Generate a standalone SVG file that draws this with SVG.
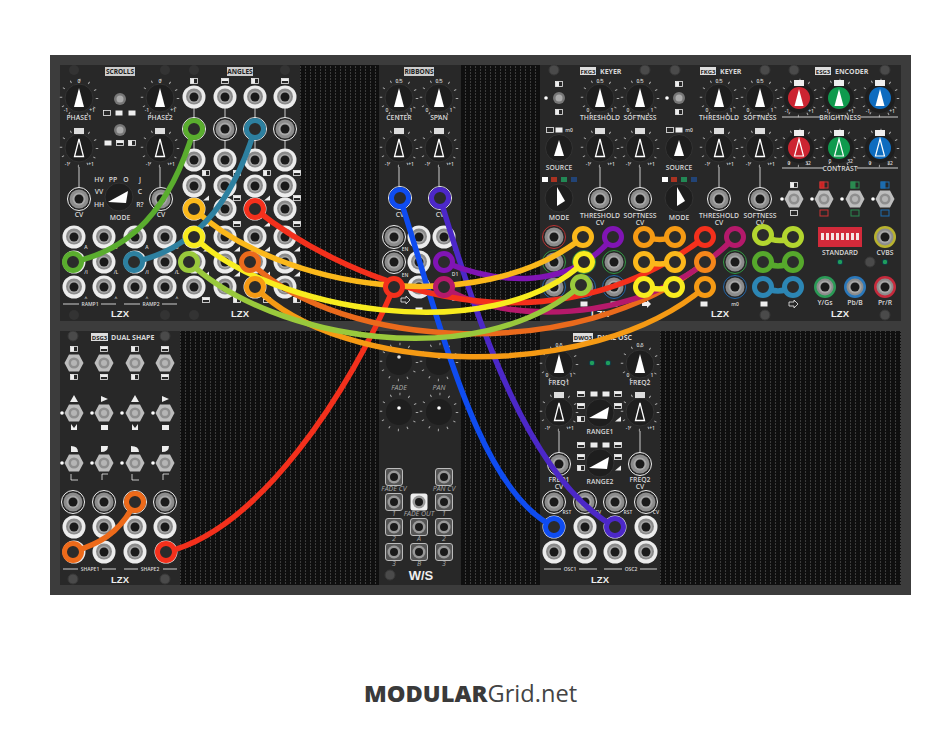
<svg xmlns="http://www.w3.org/2000/svg" width="941" height="735" viewBox="0 0 941 735">
<style>
text{font-family:"Open Sans","Liberation Sans",sans-serif;fill:#d8d8d8;text-anchor:middle}
.t{font-size:6.8px;font-weight:600}
.s{font-size:5px;font-weight:600}
.i{font-size:7px;font-style:italic;fill:#aaa}
.h{font-size:6.5px;font-weight:700;fill:#222}
.k{font-size:7px;font-weight:700;text-anchor:start}
.lg{font-size:9.500px;font-weight:800;fill:#eee;font-family:"Liberation Sans",sans-serif}
.panel{fill:#282828}
.ln{stroke:#ccc;stroke-width:1;fill:none}
.c{fill:none;stroke-width:5.500;stroke-linecap:round}
.r{fill:#2b2b2b;stroke-width:5}
.ic{fill:none;stroke:#eee;stroke-width:0.800}
.w{fill:#eee}
</style>
<defs>
<pattern id="blank" width="5" height="3" patternUnits="userSpaceOnUse"><rect width="5" height="3" fill="#0f0f0f"/><rect width="1" height="2" fill="#3c3c3c"/></pattern>
<g id="jw"><circle r="11.500" fill="#ececec"/><circle cy="-0.500" r="8" fill="#8a8a8a"/><circle r="6" fill="#a8a8a8"/><circle r="4.500" fill="#1a1a1a"/></g>
<g id="jo"><circle r="11.500" fill="#262626" stroke="currentColor" stroke-width="1"/><circle r="9.500" fill="#8c8c8c"/><circle r="6.500" fill="#a6a6a6"/><circle r="4.500" fill="#1a1a1a"/></g>
<g id="jc"><circle r="11" fill="currentColor"/><circle r="8.500" fill="#8c8c8c"/><circle r="6.500" fill="#a6a6a6"/><circle r="4.500" fill="#1a1a1a"/></g>
<g id="sq"><rect x="-8.500" y="-8.500" width="17" height="17" rx="2.500" fill="#555" stroke="#bbb"/><circle r="6.500" fill="#999"/><circle r="4" fill="#1a1a1a"/></g>
<g id="sw"><rect x="-8.500" y="-8.500" width="17" height="17" rx="2.500" fill="#eee"/><circle r="6.500" fill="#999"/><circle r="4" fill="#1a1a1a"/></g>
<g id="tick"><circle r="18" fill="none" stroke="#aaa" stroke-width="2.500" stroke-dasharray="1 8.420"/></g>
<g id="kb"><use href="#tick"/><circle r="14" fill="#1e1e1e" stroke="#333"/></g>
<g id="k"><use href="#kb"/><path d="M0-10 5 9H-5Z" fill="#fff"/></g>
<g id="ko"><use href="#kb"/><path d="M0-9 4.500 8.500H-4.500Z" fill="none" stroke="#fff" stroke-width="1.300"/><rect x="-5" y="-20" width="10" height="6" fill="#ddd"/><text class="s" x="-12" y="18">-1</text><text class="s" x="12" y="18">+1</text></g>
<g id="kc"><use href="#tick"/><circle r="15" fill="#1e1e1e"/><circle r="11" fill="currentColor"/><path d="M0-9 4.500 8H-4.500Z" fill="#fff"/></g>
<g id="kco"><use href="#tick"/><circle r="15" fill="#1e1e1e"/><circle r="11" fill="currentColor"/><path d="M0-9 4.500 8H-4.500Z" fill="none" stroke="#fff" stroke-width="1.200"/></g>
<g id="ks"><circle r="13.500" fill="#1e1e1e" stroke="#333"/><path d="M0-8 5 8H-5Z" fill="#fff"/></g>
<g id="kr"><circle r="14" fill="#1e1e1e" stroke="#333"/><path d="M-11 5 9-6 7 6Z" fill="#fff"/></g>
<g id="sn"><polygon points="-9.500,0 -5,-8.500 5,-8.500 9.500,0 5,8.500 -5,8.500" fill="#bdbdbd"/><circle r="5.500" fill="#8e8e8e"/><circle r="3" fill="#b5b5b5"/></g>
<g id="sw2"><circle r="6" fill="#777"/><circle r="3.500" fill="#aaa"/></g>
<circle id="dot" r="1.800" fill="#fff"/>
<circle id="sc" r="5" fill="#4a4a4a" stroke="#383838"/>
<circle id="sd" r="5" fill="#333"/>
<g id="ih"><rect x="-3.500" y="-2.500" width="7" height="5" class="ic"/><rect x="-3.500" y="-2.500" width="3.500" height="5" class="w"/></g>
<g id="iv"><rect x="-3.500" y="-2.500" width="7" height="5" class="ic"/><rect x="-3.500" y="-2.500" width="7" height="2.500" class="w"/></g>
<g id="ie"><rect x="-3.500" y="-2.500" width="7" height="5" class="ic"/></g>
<g id="if"><rect x="-3.500" y="-2.500" width="7" height="5" class="w"/></g>
<path id="tri" d="M-3 2.500 3 2.500 3-2.500Z" class="w"/>
<circle id="led" r="2.800" fill="#1f9e5c" stroke="#134"/>
<g id="lzx"><text class="lg">LZX</text></g>
</defs>
<rect width="941" height="735" fill="#fff"/>
<rect x="50" y="55" width="861" height="540" fill="#3c3c3c"/>
<rect x="60" y="65" width="841" height="256" fill="url(#blank)"/>
<rect x="60" y="331" width="841" height="254" fill="url(#blank)"/>

<g id="scrolls">
<rect class="panel" x="60" y="65" width="120" height="256"/>
<use href="#sd" x="74" y="70"/><use href="#sd" x="165" y="70"/><use href="#sd" x="74" y="315"/><use href="#sd" x="165" y="315"/>
<rect x="105" y="67" width="30" height="9" fill="#ccc"/><text class="h" x="120" y="74">SCROLLS</text>
<use href="#k" x="79" y="98"/><use href="#k" x="160" y="98"/>
<text class="s" x="79" y="83">0</text><text class="s" x="160" y="83">0</text>
<text class="s" x="66" y="112">-1</text><text class="s" x="92" y="112">+1</text><text class="s" x="147" y="112">-1</text><text class="s" x="173" y="112">+1</text>
<text class="t" x="79" y="120">PHASE1</text><text class="t" x="160" y="120">PHASE2</text>
<use href="#ko" x="79" y="148"/><use href="#ko" x="160" y="148"/>
<use href="#sw2" x="120" y="99"/><use href="#sw2" x="120" y="130"/>
<use href="#ie" x="107" y="113"/><use href="#if" x="119" y="113"/><use href="#if" x="132" y="113"/>
<use href="#if" x="108" y="143"/><use href="#iv" x="120" y="143"/><use href="#ih" x="132" y="143"/>
<line class="ln" x1="79" y1="167" x2="79" y2="190"/><line class="ln" x1="160" y1="167" x2="160" y2="190"/>
<use href="#jo" x="79" y="199" color="#eee"/><use href="#jo" x="161" y="199" color="#eee"/>
<text class="t" x="79" y="217">CV</text><text class="t" x="161" y="217">CV</text>
<use href="#kr" x="119" y="197"/>
<text class="t" x="99" y="182">HV</text><text class="t" x="113" y="182">PP</text><text class="t" x="126" y="182">O</text><text class="t" x="140" y="182">J</text>
<text class="t" x="99" y="194">VV</text><text class="t" x="140" y="194">C</text><text class="t" x="99" y="207">HH</text><text class="t" x="140" y="207">R?</text>
<text class="t" x="120" y="220">MODE</text>
<use href="#jw" x="74" y="237"/><use href="#jw" x="104" y="237"/><use href="#jw" x="135" y="237"/><use href="#jw" x="165" y="237"/>
<use href="#jw" x="74" y="262"/><use href="#jw" x="104" y="262"/><use href="#jw" x="135" y="262"/><use href="#jw" x="165" y="262"/>
<use href="#jw" x="74" y="287"/><use href="#jw" x="104" y="287"/><use href="#jw" x="135" y="287"/><use href="#jw" x="165" y="287"/>
<text class="s" x="86" y="249">A</text><text class="s" x="116" y="249">B</text><text class="s" x="147" y="249">A</text><text class="s" x="177" y="249">B</text>
<text class="s" x="86" y="274">/I</text><text class="s" x="116" y="274">/L</text><text class="s" x="147" y="274">/I</text><text class="s" x="177" y="274">/L</text>
<text class="s" x="86" y="300">^</text><text class="s" x="116" y="300">^</text><text class="s" x="147" y="300">^</text><text class="s" x="177" y="300">^</text>
<path class="ln" d="M63 304H79M101 304H116M124 304H140M162 304H177"/>
<text class="s" x="90" y="306">RAMP1</text><text class="s" x="151" y="306">RAMP2</text>
<use href="#lzx" x="120" y="317"/>
</g>

<g id="angles">
<rect class="panel" x="180" y="65" width="120" height="256"/>
<use href="#sd" x="194" y="70"/><use href="#sd" x="285" y="70"/><use href="#sd" x="194" y="315"/><use href="#sd" x="285" y="315"/>
<rect x="227" y="67" width="26" height="9" fill="#ccc"/><text class="h" x="240" y="74">ANGLES</text>
<use href="#ih" x="194" y="81"/><use href="#iv" x="225" y="81"/><use href="#ih" x="255" y="81"/><use href="#iv" x="285" y="81"/>
<path class="ln" d="M194 97V160M225 97V160M255 97V160M285 97V160"/>
<use href="#jw" x="194" y="97"/><use href="#jw" x="225" y="97"/><use href="#jw" x="255" y="97"/><use href="#jw" x="285" y="97"/>
<use href="#jo" x="194" y="129" color="#eee"/><use href="#jo" x="225" y="129" color="#eee"/><use href="#jo" x="255" y="129" color="#eee"/><use href="#jo" x="285" y="129" color="#eee"/>
<use href="#jw" x="194" y="160"/><use href="#jw" x="225" y="160"/><use href="#jw" x="255" y="160"/><use href="#jw" x="285" y="160"/>
<use href="#jw" x="194" y="186"/><use href="#jw" x="225" y="186"/><use href="#jw" x="255" y="186"/><use href="#jw" x="285" y="186"/>
<use href="#jw" x="194" y="209"/><use href="#jw" x="225" y="209"/><use href="#jw" x="255" y="209"/><use href="#jw" x="285" y="209"/>
<use href="#jw" x="194" y="237"/><use href="#jw" x="225" y="237"/><use href="#jw" x="255" y="237"/><use href="#jw" x="285" y="237"/>
<use href="#jw" x="194" y="262"/><use href="#jw" x="225" y="262"/><use href="#jw" x="255" y="262"/><use href="#jw" x="285" y="262"/>
<use href="#jw" x="194" y="287"/><use href="#jw" x="225" y="287"/><use href="#jw" x="255" y="287"/><use href="#jw" x="285" y="287"/>
<use href="#ih" x="206" y="173"/><use href="#iv" x="237" y="173"/><use href="#ih" x="267" y="173"/><use href="#iv" x="297" y="173"/>
<use href="#tri" x="206" y="198"/><use href="#iv" x="237" y="198"/><use href="#tri" x="267" y="198"/><use href="#iv" x="297" y="198"/>
<use href="#tri" x="206" y="224"/><use href="#iv" x="237" y="224"/><use href="#tri" x="267" y="224"/><use href="#iv" x="297" y="224"/>
<use href="#tri" x="206" y="249"/><use href="#tri" x="237" y="249"/><use href="#tri" x="267" y="249"/><use href="#tri" x="297" y="249"/>
<use href="#tri" x="206" y="274"/><use href="#tri" x="237" y="274"/><use href="#tri" x="267" y="274"/><use href="#tri" x="297" y="274"/>
<use href="#iv" x="206" y="300"/><use href="#ih" x="237" y="300"/><use href="#iv" x="267" y="300"/><use href="#ih" x="297" y="300"/>
<use href="#lzx" x="240" y="317"/>
</g>

<g id="ribbons">
<rect class="panel" x="379" y="65" width="82" height="256"/>
<rect x="404" y="67" width="30" height="9" fill="#ccc"/><text class="h" x="419" y="74">RIBBONS</text>
<use href="#k" x="399" y="98"/><use href="#k" x="439" y="98"/>
<text class="s" x="399" y="83">0.5</text><text class="s" x="439" y="83">0.5</text>
<text class="s" x="387" y="112">0</text><text class="s" x="411" y="112">1</text><text class="s" x="427" y="112">0</text><text class="s" x="451" y="112">1</text>
<text class="t" x="399" y="120">CENTER</text><text class="t" x="439" y="120">SPAN</text>
<use href="#ko" x="399" y="148"/><use href="#ko" x="439" y="148"/>
<path class="ln" d="M399 167V190M439 167V190"/>
<use href="#jo" x="400" y="198" color="#eee"/><use href="#jo" x="440" y="198" color="#eee"/>
<text class="t" x="400" y="217">CV</text><text class="t" x="440" y="217">CV</text>
<use href="#jo" x="394" y="237" color="#eee"/><use href="#jo" x="394" y="262" color="#eee"/>
<use href="#jw" x="419" y="237"/><use href="#jw" x="419" y="262"/><use href="#jw" x="419" y="287"/><use href="#jw" x="444" y="237"/>
<text class="s" x="405" y="251">EN</text><text class="s" x="405" y="277">EN</text><text class="s" x="455" y="251">D</text><text class="s" x="455" y="276">D1</text><text class="s" x="455" y="301">D2</text>
<path class="ic" d="M401 298h5v-2l4 4-4 4v-2h-5z"/>
<use href="#if" x="419" y="310"/>
</g>

<g id="keyer1">
<rect class="panel" x="540" y="65" width="120" height="256"/>
<rect x="580" y="67" width="16" height="8" fill="#ddd"/><text class="h" x="588" y="73.500" style="font-size:6px">FKG3</text><text class="k" x="600" y="74">KEYER</text>
<use href="#sc" x="554" y="70"/><use href="#sc" x="645" y="70"/>
<use href="#ih" x="559" y="84"/><use href="#ih" x="559" y="112"/>
<use href="#sw2" x="559" y="98"/><use href="#dot" x="546" y="98"/>
<use href="#k" x="600" y="98"/><use href="#k" x="640" y="98"/>
<text class="s" x="600" y="83">0.5</text><text class="s" x="640" y="83">0.5</text>
<text class="s" x="588" y="112">0</text><text class="s" x="612" y="112">1</text><text class="s" x="628" y="112">0</text><text class="s" x="652" y="112">1</text>
<text class="t" x="600" y="120">THRESHOLD</text><text class="t" x="640" y="120">SOFTNESS</text>
<use href="#ks" x="559" y="148"/><use href="#ie" x="550" y="130"/><use href="#if" x="559" y="130"/><text class="s" x="569" y="132">m0</text>
<text class="t" x="559" y="170">SOURCE</text>
<use href="#ko" x="600" y="148"/><use href="#ko" x="640" y="148"/>
<path class="ln" d="M600 167V190M640 167V190"/>
<use href="#jo" x="600" y="199" color="#eee"/><use href="#jo" x="640" y="199" color="#eee"/>
<text class="t" x="600" y="218">THRESHOLD</text><text class="t" x="600" y="224.500">CV</text>
<text class="t" x="640" y="218">SOFTNESS</text><text class="t" x="640" y="224.500">CV</text>
<rect x="542" y="177" width="6" height="5" fill="#fff"/><rect x="551" y="177" width="6" height="5" fill="#a32"/><rect x="561" y="177" width="6" height="5" fill="#285"/><rect x="571" y="177" width="6" height="5" fill="#247"/>
<circle cx="559" cy="198" r="14" fill="#1e1e1e" stroke="#333"/><path d="M557 187 565 201 557 206Z" fill="#fff"/>
<text class="t" x="559" y="220">MODE</text>
<use href="#jo" x="554" y="237" color="#b33"/><use href="#jo" x="554" y="262" color="#394"/><use href="#jo" x="554" y="287" color="#26a"/>
<use href="#jo" x="584" y="262" color="#394"/><use href="#jo" x="584" y="287" color="#26a"/>
<use href="#jo" x="614" y="262" color="#394"/><use href="#jo" x="614" y="287" color="#26a"/>
<use href="#if" x="584" y="304"/><use href="#if" x="614" y="304"/><path class="w" d="M642 302h5v-2l4 4-4 4v-2h-5z"/>
<use href="#lzx" x="600" y="317"/>
</g>

<g id="keyer2">
<rect class="panel" x="660" y="65" width="120" height="256"/>
<rect x="700" y="67" width="16" height="8" fill="#ddd"/><text class="h" x="708" y="73.500" style="font-size:6px">FKG3</text><text class="k" x="720" y="74">KEYER</text>
<use href="#sc" x="675" y="70"/><use href="#sc" x="765" y="70"/>
<use href="#ih" x="679" y="84"/><use href="#ih" x="679" y="112"/>
<use href="#sw2" x="679" y="98"/><use href="#dot" x="667" y="98"/>
<use href="#k" x="719" y="98"/><use href="#k" x="760" y="98"/>
<text class="s" x="719" y="83">0.5</text><text class="s" x="760" y="83">0.5</text>
<text class="s" x="707" y="112">0</text><text class="s" x="731" y="112">1</text><text class="s" x="748" y="112">0</text><text class="s" x="772" y="112">1</text>
<text class="t" x="719" y="120">THRESHOLD</text><text class="t" x="760" y="120">SOFTNESS</text>
<use href="#ks" x="679" y="148"/><use href="#ie" x="670" y="130"/><use href="#if" x="679" y="130"/><text class="s" x="689" y="132">m0</text>
<text class="t" x="679" y="170">SOURCE</text>
<use href="#ko" x="719" y="148"/><use href="#ko" x="760" y="148"/>
<path class="ln" d="M719 167V190M760 167V190"/>
<use href="#jo" x="719" y="199" color="#eee"/><use href="#jo" x="760" y="199" color="#eee"/>
<text class="t" x="719" y="218">THRESHOLD</text><text class="t" x="719" y="224.500">CV</text>
<text class="t" x="760" y="218">SOFTNESS</text><text class="t" x="760" y="224.500">CV</text>
<rect x="662" y="177" width="6" height="5" fill="#fff"/><rect x="671" y="177" width="6" height="5" fill="#a32"/><rect x="681" y="177" width="6" height="5" fill="#285"/><rect x="691" y="177" width="6" height="5" fill="#247"/>
<circle cx="679" cy="198" r="14" fill="#1e1e1e" stroke="#333"/><path d="M677 187 685 201 677 206Z" fill="#fff"/>
<text class="t" x="679" y="220">MODE</text>
<use href="#jo" x="735" y="262" color="#394"/><use href="#jo" x="735" y="287" color="#26a"/>
<use href="#if" x="704" y="304"/><text class="s" x="735" y="306">m0</text>
<use href="#lzx" x="720" y="317"/>
</g>

<g id="encoder">
<rect class="panel" x="780" y="65" width="121" height="256"/>
<rect x="815" y="67" width="16" height="8" fill="#ddd"/><text class="h" x="823" y="73.500" style="font-size:6px">ESG3</text><text class="k" x="835" y="74">ENCODER</text>
<use href="#sc" x="794" y="70"/><use href="#sc" x="885" y="70"/>
<use href="#kc" x="799" y="98" color="#cc2431"/><use href="#kc" x="839" y="98" color="#0f9a4d"/><use href="#kc" x="880" y="98" color="#0e6cbf"/>
<rect x="794" y="80" width="10" height="6" fill="#eee"/><rect x="834" y="80" width="10" height="6" fill="#eee"/><rect x="875" y="80" width="10" height="6" fill="#eee"/>
<text class="s" x="787" y="113">-1</text><text class="s" x="811" y="113">+1</text><text class="s" x="827" y="113">-1</text><text class="s" x="851" y="113">+1</text><text class="s" x="868" y="113">-1</text><text class="s" x="892" y="113">+1</text>
<path class="ln" d="M782 117H820M860 117H898"/><text class="t" x="840" y="120">BRIGHTNESS</text>
<use href="#kco" x="799" y="148" color="#cc2431"/><use href="#kco" x="839" y="148" color="#0f9a4d"/><use href="#kco" x="880" y="148" color="#0e6cbf"/>
<rect x="794" y="130" width="10" height="6" fill="#eee"/><rect x="834" y="130" width="10" height="6" fill="#eee"/><rect x="875" y="130" width="10" height="6" fill="#eee"/>
<text class="s" x="789" y="165">0</text><text class="s" x="808" y="165">32</text><text class="s" x="830" y="163">0</text><text class="s" x="850" y="163">32</text><text class="s" x="870" y="165">0</text><text class="s" x="890" y="165">32</text>
<path class="ln" d="M782 168H823M857 168H898"/><text class="t" x="840" y="171">CONTRAST</text>
<use href="#sn" x="794" y="199"/><use href="#sn" x="824" y="199"/><use href="#sn" x="855" y="199"/><use href="#sn" x="885" y="199"/>
<use href="#dot" x="782" y="199"/><use href="#dot" x="812" y="199"/><use href="#dot" x="842" y="199"/><use href="#dot" x="873" y="199"/>
<use href="#ih" x="794" y="185"/><use href="#ie" x="794" y="213"/>
<g stroke="#c33" fill="none"><rect x="820" y="182" width="8" height="6"/><rect x="820" y="182" width="4" height="6" fill="#c22"/><rect x="820" y="210" width="8" height="6"/></g>
<g stroke="#2a8a50" fill="none"><rect x="851" y="182" width="8" height="6"/><rect x="851" y="182" width="4" height="6" fill="#2a8a50"/><rect x="851" y="210" width="8" height="6"/></g>
<g stroke="#1c6db0" fill="none"><rect x="881" y="182" width="8" height="6"/><rect x="881" y="182" width="4" height="6" fill="#1c6db0"/><rect x="881" y="210" width="8" height="6"/></g>
<rect x="818" y="227" width="44" height="20" fill="#d22a3a"/>
<path d="M821 233h3v7h-3zM826 233h3v7h-3zM831 233h3v7h-3zM836 233h3v7h-3zM841 233h3v7h-3zM846 233h3v7h-3zM851 233h3v7h-3zM856 233h3v7h-3z" fill="#f4e4e4"/>
<text class="t" x="840" y="254.500">STANDARD</text><text class="t" x="885" y="254.500">CVBS</text>
<use href="#jc" x="885" y="237" color="#b8b22e"/>
<use href="#led" x="840" y="262"/><use href="#sc" x="870" y="262"/><use href="#led" x="885" y="262"/>
<use href="#jc" x="825" y="287" color="#2a9a56"/><use href="#jc" x="855" y="287" color="#2a78bb"/><use href="#jc" x="885" y="287" color="#c62a3c"/>
<text class="t" x="825" y="305">Y/Gs</text><text class="t" x="855" y="305">Pb/B</text><text class="t" x="885" y="305">Pr/R</text>
<use href="#if" x="764" y="304"/><path class="ic" d="M789 302h5v-2l4 4-4 4v-2h-5z"/>
<use href="#lzx" x="840" y="317"/>
<use href="#sc" x="765" y="315"/><use href="#sc" x="885" y="315"/>
</g>

<g id="dual-shape">
<rect class="panel" x="60" y="331" width="120" height="254"/>
<rect x="91" y="333" width="17" height="8" fill="#ddd"/><text class="h" x="99.500" y="339.500" style="font-size:6px">DSG3</text><text class="k" x="111" y="339.500">DUAL SHAPE</text>
<use href="#sc" x="73" y="336"/><use href="#sc" x="165" y="336"/>
<use href="#sn" x="74" y="363"/><use href="#sn" x="104" y="363"/><use href="#sn" x="135" y="363"/><use href="#sn" x="165" y="363"/>
<use href="#ih" x="74" y="349"/><use href="#iv" x="104" y="349"/><use href="#ih" x="135" y="349"/><use href="#iv" x="165" y="349"/>
<use href="#ih" x="74" y="377"/><use href="#iv" x="104" y="377"/><use href="#ih" x="135" y="377"/><use href="#iv" x="165" y="377"/>
<use href="#sn" x="74" y="413"/><use href="#sn" x="104" y="413"/><use href="#sn" x="135" y="413"/><use href="#sn" x="165" y="413"/>
<use href="#dot" x="62" y="413"/><use href="#dot" x="92" y="413"/><use href="#dot" x="122" y="413"/><use href="#dot" x="153" y="413"/>
<path class="w" d="M74 395 78 402H70ZM101 396 108 399 101 402ZM135 395 139 402H131ZM162 396 169 399 162 402Z"/>
<path class="w" d="M71 424 74 428 77 424V430H71ZM101 425H108V430H101ZM132 424 135 428 138 424V430H132ZM162 425H169V430H162Z"/>
<use href="#sn" x="74" y="463"/><use href="#sn" x="104" y="463"/><use href="#sn" x="135" y="463"/><use href="#sn" x="165" y="463"/>
<use href="#dot" x="62" y="463"/><use href="#dot" x="92" y="463"/><use href="#dot" x="122" y="463"/><use href="#dot" x="153" y="463"/>
<path class="w" d="M71 446Q78 446 78 452H71ZM101 446H108Q108 452 101 452ZM131 446Q139 446 139 452H131ZM162 446H169Q169 452 162 452Z"/>
<path class="ic" d="M71 474V480H78M108 474H102V480M132 474V480H139M169 474H163V480"/>
<use href="#jo" x="73" y="502" color="#eee"/><use href="#jo" x="104" y="502" color="#eee"/><use href="#jo" x="135" y="502" color="#eee"/><use href="#jo" x="165" y="502" color="#eee"/>
<use href="#jw" x="74" y="527"/><use href="#jw" x="104" y="527"/><use href="#jw" x="135" y="527"/><use href="#jw" x="165" y="527"/>
<use href="#jw" x="74" y="552"/><use href="#jw" x="104" y="552"/><use href="#jw" x="135" y="552"/><use href="#jw" x="166" y="552"/>
<path class="ln" d="M63 569H78M102 569H116M124 569H138M163 569H177"/>
<text class="s" x="90" y="571">SHAPE1</text><text class="s" x="150" y="571">SHAPE2</text>
<use href="#lzx" x="120" y="583"/>
<use href="#sc" x="73" y="579"/><use href="#sc" x="165" y="579"/>
</g>

<g id="ws-module">
<rect class="panel" x="379" y="331" width="82" height="254"/>
<use href="#tick" x="399" y="362"/><circle cx="399" cy="362" r="13" fill="#1e1e1e"/><circle cx="399" cy="357" r="1.800" fill="#ddd"/>
<use href="#tick" x="439" y="362"/><circle cx="439" cy="362" r="13" fill="#1e1e1e"/><circle cx="439" cy="357" r="1.800" fill="#ddd"/>
<text class="i" x="399" y="390">FADE</text><text class="i" x="439" y="390">PAN</text>
<use href="#tick" x="399" y="412"/><circle cx="399" cy="412" r="13" fill="#1e1e1e"/><circle cx="399" cy="408" r="1.800" fill="#fff"/>
<use href="#tick" x="439" y="412"/><circle cx="439" cy="412" r="13" fill="#1e1e1e"/><circle cx="439" cy="408" r="1.800" fill="#fff"/>
<use href="#sq" x="394" y="477"/><use href="#sq" x="444" y="477"/>
<text class="i" x="394" y="491">FADE CV</text><text class="i" x="444" y="491">PAN CV</text>
<use href="#sq" x="394" y="502"/><use href="#sw" x="419" y="502"/><use href="#sq" x="444" y="502"/>
<text class="i" x="394" y="516">1</text><text class="i" x="419" y="516">FADE OUT</text><text class="i" x="444" y="516">1</text>
<use href="#sq" x="394" y="527"/><use href="#sq" x="419" y="527"/><use href="#sq" x="444" y="527"/>
<text class="i" x="394" y="541">2</text><text class="i" x="419" y="541">A</text><text class="i" x="444" y="541">2</text>
<use href="#sq" x="394" y="552"/><use href="#sq" x="419" y="552"/><use href="#sq" x="444" y="552"/>
<text class="i" x="394" y="566">3</text><text class="i" x="419" y="566">B</text><text class="i" x="444" y="566">3</text>
<use href="#sc" x="390" y="575"/>
<text x="421" y="580" font-size="13" font-weight="800" style="fill:#eee;font-family:'Liberation Sans',sans-serif">W/S</text>
</g>

<g id="dual-osc">
<rect class="panel" x="540" y="331" width="120" height="254"/>
<rect x="573" y="333" width="20" height="9" fill="#ddd"/><text class="h" x="583" y="340" style="font-size:6px">DWO3</text><text class="k" x="597" y="340">DUAL OSC</text>
<use href="#k" x="559" y="364"/><use href="#k" x="640" y="364"/>
<text class="s" x="559" y="347">0.5</text><text class="s" x="640" y="347">0.5</text>
<text class="s" x="547" y="377">0</text><text class="s" x="571" y="377">1</text><text class="s" x="628" y="377">0</text><text class="s" x="652" y="377">1</text>
<text class="t" x="559" y="385">FREQ1</text><text class="t" x="640" y="385">FREQ2</text>
<use href="#led" x="592" y="363"/><use href="#led" x="608" y="363"/>
<use href="#ko" x="559" y="412"/><use href="#ko" x="640" y="412"/>
<path class="ln" d="M559 431V456M640 431V456"/>
<use href="#jo" x="559" y="464" color="#eee"/><use href="#jo" x="640" y="464" color="#eee"/>
<text class="t" x="559" y="482">FREQ1</text><text class="t" x="559" y="488.500">CV</text><text class="t" x="640" y="482">FREQ2</text><text class="t" x="640" y="488.500">CV</text>
<use href="#kr" x="600" y="413"/><use href="#kr" x="600" y="463"/>
<text class="t" x="600" y="434">RANGE1</text><text class="t" x="600" y="484">RANGE2</text>
<use href="#iv" x="581" y="394"/><use href="#if" x="594" y="394"/><use href="#if" x="606" y="394"/><use href="#iv" x="618" y="394"/>
<use href="#iv" x="581" y="406"/><use href="#iv" x="618" y="406"/><use href="#ih" x="581" y="419"/><use href="#tri" x="618" y="419"/>
<use href="#iv" x="581" y="445"/><use href="#if" x="594" y="445"/><use href="#if" x="606" y="445"/><use href="#iv" x="618" y="445"/>
<use href="#iv" x="581" y="457"/><use href="#iv" x="618" y="457"/><use href="#ih" x="581" y="468"/><use href="#tri" x="618" y="468"/>
<use href="#jo" x="554" y="502" color="#eee"/><use href="#jo" x="585" y="502" color="#eee"/><use href="#jo" x="615" y="502" color="#eee"/><use href="#jo" x="646" y="502" color="#eee"/>
<text class="s" x="567" y="514">RST</text><text class="s" x="598" y="514">CV</text><text class="s" x="628" y="514">RST</text><text class="s" x="656" y="514">CV</text>
<use href="#jw" x="554" y="527"/><use href="#jw" x="585" y="527"/><use href="#jw" x="615" y="527"/><use href="#jw" x="646" y="527"/>
<use href="#jw" x="554" y="552"/><use href="#jw" x="585" y="552"/><use href="#jw" x="615" y="552"/><use href="#jw" x="646" y="552"/>
<path class="ln" d="M544 569H561M579 569H597M604 569H622M640 569H657"/>
<text class="s" x="570" y="571">OSC1</text><text class="s" x="631" y="571">OSC2</text>
<use href="#lzx" x="600" y="583"/>
</g>

<g id="connectors">
<g fill="none">
<path class="c" stroke="#0f4cf0" d="M400 198C445 340 480 490 554 527"/>
<path class="c" stroke="#4c28c8" d="M440 198C480 330 530 480 615 527"/>
<path class="c" stroke="#5aad2e" d="M194 129C170 210 130 250 73 262"/>
<path class="c" stroke="#ed6a1a" d="M135 502C120 535 95 545 73 552"/>
<path class="c" stroke="#f4301c" d="M166 552C260 530 350 390 394 287"/>
<path class="c" stroke="#ea6a1c" d="M250 262C340 350 580 365 705 262"/>
<path class="c" stroke="#f59a14" d="M255 287C340 375 590 385 705 287"/>
<path class="c" stroke="#b5196b" d="M444 287C490 320 640 335 735 237"/>
<path class="c" stroke="#8014b4" d="M444 262C500 285 570 290 613 237"/>
<path class="c" stroke="#f4301c" d="M255 209C330 270 530 370 705 237"/>
<path class="c" stroke="#fbb81b" d="M194 209C280 290 480 320 583 237"/>
<path class="c" stroke="#2d80a0" d="M255 129C230 210 190 250 134 262"/>
<path class="c" stroke="#f8ec1f" d="M194 237C270 310 490 350 584 262"/>
<path class="c" stroke="#99c93c" d="M189 262C270 340 480 375 581 285"/>
<path class="c" stroke="#f59a14" d="M644 237Q660 242 675 237"/>
<path class="c" stroke="#fbb81b" d="M644 262Q660 266 675 262"/>
<path class="c" stroke="#f8ec1f" d="M644 287Q660 291 674 287"/>
<path class="c" stroke="#b3d52f" d="M763 235Q778 245 793 237"/>
<path class="c" stroke="#56a82c" d="M763 262Q778 270 793 262"/>
<path class="c" stroke="#2c86b4" d="M763 287Q778 295 793 287"/>
</g>
<circle class="r" cx="400" cy="198" r="8.500" stroke="#0f4cf0"/><circle class="r" cx="440" cy="198" r="8.500" stroke="#4c28c8"/>
<circle class="r" cx="554" cy="527" r="8.500" stroke="#0f4cf0"/><circle class="r" cx="615" cy="527" r="8.500" stroke="#4c28c8"/>
<circle class="r" cx="194" cy="129" r="8.500" stroke="#5aad2e"/><circle class="r" cx="73" cy="262" r="8.500" stroke="#5aad2e"/>
<circle class="r" cx="255" cy="129" r="8.500" stroke="#2d80a0"/><circle class="r" cx="134" cy="262" r="8.500" stroke="#2d80a0"/>
<circle class="r" cx="135" cy="502" r="8.500" stroke="#ed6a1a"/><circle class="r" cx="73" cy="552" r="8.500" stroke="#ed6a1a"/>
<circle class="r" cx="166" cy="552" r="8.500" stroke="#f4301c"/><circle class="r" cx="394" cy="287" r="8.500" stroke="#f4301c"/>
<circle class="r" cx="255" cy="209" r="8.500" stroke="#f4301c"/><circle class="r" cx="705" cy="237" r="8.500" stroke="#f4301c"/>
<circle class="r" cx="194" cy="209" r="8.500" stroke="#fbb81b"/><circle class="r" cx="583" cy="237" r="8.500" stroke="#fbb81b"/>
<circle class="r" cx="194" cy="237" r="8.500" stroke="#f8ec1f"/><circle class="r" cx="584" cy="262" r="8.500" stroke="#f8ec1f"/>
<circle class="r" cx="189" cy="262" r="8.500" stroke="#99c93c"/><circle class="r" cx="581" cy="285" r="8.500" stroke="#99c93c"/>
<circle class="r" cx="250" cy="262" r="8.500" stroke="#ea6a1c"/><circle class="r" cx="705" cy="262" r="8.500" stroke="#f5861a"/>
<circle class="r" cx="255" cy="287" r="8.500" stroke="#f59a14"/><circle class="r" cx="705" cy="287" r="8.500" stroke="#f59a14"/>
<circle class="r" cx="444" cy="287" r="8.500" stroke="#b5196b"/><circle class="r" cx="735" cy="237" r="8.500" stroke="#b5196b"/>
<circle class="r" cx="444" cy="262" r="8.500" stroke="#8014b4"/><circle class="r" cx="613" cy="237" r="8.500" stroke="#8014b4"/>
<circle class="r" cx="644" cy="237" r="8.500" stroke="#f59a14"/><circle class="r" cx="675" cy="237" r="8.500" stroke="#f59a14"/>
<circle class="r" cx="644" cy="262" r="8.500" stroke="#fbb81b"/><circle class="r" cx="675" cy="262" r="8.500" stroke="#fbb81b"/>
<circle class="r" cx="644" cy="287" r="8.500" stroke="#f8ec1f"/><circle class="r" cx="674" cy="287" r="8.500" stroke="#f8ec1f"/>
<circle class="r" cx="763" cy="235" r="8.500" stroke="#b3d52f"/><circle class="r" cx="793" cy="237" r="8.500" stroke="#b3d52f"/>
<circle class="r" cx="763" cy="262" r="8.500" stroke="#56a82c"/><circle class="r" cx="793" cy="262" r="8.500" stroke="#56a82c"/>
<circle class="r" cx="763" cy="287" r="8.500" stroke="#2c86b4"/><circle class="r" cx="793" cy="287" r="8.500" stroke="#2c86b4"/>
</g>

<text id="brand" x="470.500" y="702" font-size="23.600" style="fill:#3a3a3a"><tspan font-weight="800">MODULAR</tspan><tspan font-weight="400" fill="#444">Grid.net</tspan></text>
</svg>
